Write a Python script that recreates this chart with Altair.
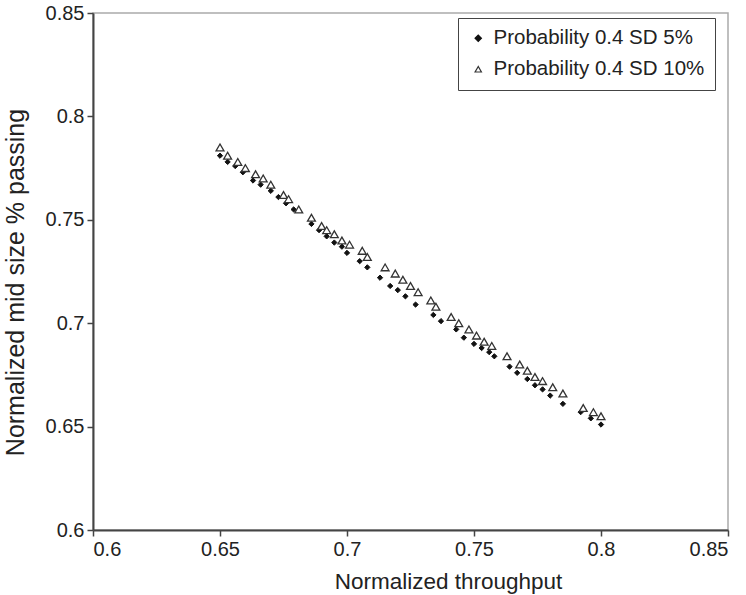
import altair as alt
import pandas as pd

s1_name = "Probability 0.4 SD 5%"
s2_name = "Probability 0.4 SD 10%"

s1_x = [0.650, 0.653, 0.656, 0.659, 0.663, 0.666, 0.670, 0.673, 0.676, 0.679,
        0.686, 0.689, 0.692, 0.695, 0.698, 0.700, 0.705, 0.708, 0.713, 0.717,
        0.720, 0.723, 0.727, 0.734, 0.737, 0.743, 0.746, 0.750, 0.753, 0.756,
        0.758, 0.764, 0.767, 0.771, 0.774, 0.777, 0.780, 0.785, 0.792, 0.796, 0.800]
s1_y = [0.781, 0.778, 0.776, 0.773, 0.769, 0.767, 0.764, 0.761, 0.758, 0.755,
        0.748, 0.745, 0.742, 0.739, 0.737, 0.734, 0.730, 0.727, 0.722, 0.718,
        0.716, 0.713, 0.709, 0.704, 0.701, 0.697, 0.693, 0.690, 0.688, 0.686,
        0.684, 0.679, 0.676, 0.673, 0.670, 0.668, 0.665, 0.661, 0.657, 0.654, 0.651]

s2_x = [0.650, 0.653, 0.657, 0.660, 0.664, 0.667, 0.670, 0.675, 0.677, 0.681,
        0.686, 0.690, 0.692, 0.695, 0.698, 0.701, 0.706, 0.708, 0.715, 0.719,
        0.722, 0.725, 0.728, 0.733, 0.735, 0.741, 0.744, 0.748, 0.751, 0.754,
        0.757, 0.763, 0.768, 0.771, 0.774, 0.777, 0.781, 0.785, 0.793, 0.797, 0.800]
s2_y = [0.785, 0.781, 0.778, 0.775, 0.772, 0.770, 0.767, 0.762, 0.760, 0.755,
        0.751, 0.747, 0.745, 0.743, 0.740, 0.738, 0.735, 0.732, 0.727, 0.724,
        0.721, 0.718, 0.715, 0.711, 0.708, 0.703, 0.700, 0.697, 0.694, 0.691,
        0.689, 0.684, 0.680, 0.677, 0.674, 0.672, 0.669, 0.666, 0.659, 0.657, 0.655]

x_ticks = [0.6, 0.65, 0.7, 0.75, 0.8, 0.85]
y_ticks = [0.6, 0.65, 0.7, 0.75, 0.8, 0.85]

df = pd.concat([
    pd.DataFrame({"x": s1_x, "y": s1_y, "series": s1_name}),
    pd.DataFrame({"x": s2_x, "y": s2_y, "series": s2_name}),
])

FONT = "Liberation Sans"
domain = [s1_name, s2_name]

enc = dict(
    x=alt.X("x:Q", scale=alt.Scale(domain=[0.6, 0.85], nice=False, zero=False),
            axis=alt.Axis(values=x_ticks, title="Normalized throughput", format="~g",
                          titleX=355, titleY=40, titleFontSize=22.5)),
    y=alt.Y("y:Q", scale=alt.Scale(domain=[0.6, 0.85], nice=False, zero=False),
            axis=alt.Axis(values=y_ticks, title="Normalized mid size % passing", format="~g",
                          titleX=-78, titleY=269, titleBaseline="middle", titleFontSize=25)),
    shape=alt.Shape("series:N", scale=alt.Scale(domain=domain, range=["diamond", "triangle-up"]),
                    legend=alt.Legend(title=None, orient="none", legendX=365, legendY=5,
                                      strokeColor="#444444", fillColor="white", padding=10,
                                      labelFont=FONT, labelFontSize=20.5, labelColor="#222222",
                                      labelLimit=400, rowPadding=10, symbolSize=40,
                                      symbolStrokeWidth=1.2, symbolStrokeColor="#222222",
                                      labelOffset=5)),
    fill=alt.Fill("series:N", scale=alt.Scale(domain=domain, range=["#111111", "#ffffff"]),
                  legend=None),
    stroke=alt.Stroke("series:N", scale=alt.Scale(domain=domain, range=["#111111", "#333333"]),
                      legend=None),
)

diamonds = alt.Chart(df).transform_filter(
    alt.datum.series == s1_name
).mark_point(size=28, strokeWidth=1, filled=False, opacity=1).encode(**enc)

triangles = alt.Chart(df).transform_filter(
    alt.datum.series == s2_name
).mark_point(size=62, strokeWidth=1.3, filled=False, opacity=1).encode(**enc)

chart = alt.layer(diamonds, triangles).properties(
    width=635, height=517,
    autosize=alt.AutoSizeParams(type="none"),
    padding={"left": 93, "top": 13, "right": 18, "bottom": 65},
).configure_view(
    stroke="#aaaaaa", strokeWidth=1.5
).configure_axis(
    domainColor="#444444", domainWidth=2, tickColor="#444444", tickWidth=1.5, tickSize=6,
    grid=False, labelFont=FONT, labelFontSize=20, labelColor="#222222",
    titleFont=FONT, titleFontWeight="normal", titleColor="#222222",
    labelPadding=3,
)

chart.save("out.html", embed_options={"renderer": "svg", "actions": False})
